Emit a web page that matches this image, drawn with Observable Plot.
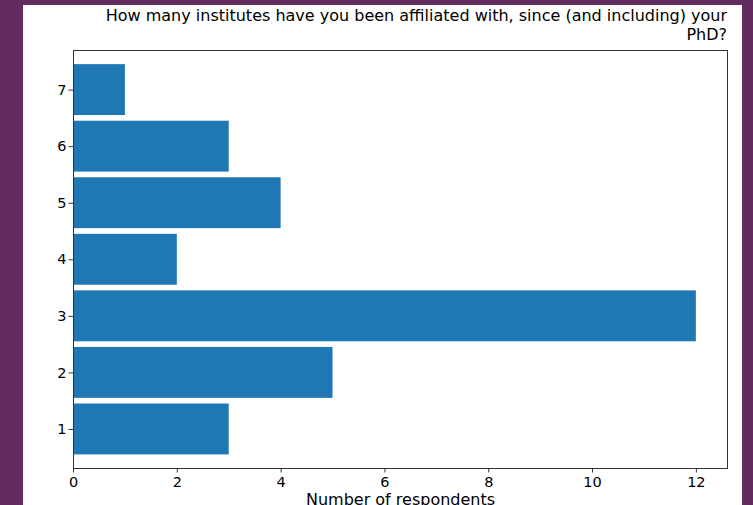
<!DOCTYPE html>
<html>
<head>
<meta charset="utf-8">
<script src="https://cdn.jsdelivr.net/npm/d3@7"></script>
<script src="https://cdn.jsdelivr.net/npm/@observablehq/plot@0.6"></script>
<style>
  html, body { margin: 0; padding: 0; background: #632c61; width: 753px; height: 505px; overflow: hidden; font-family: "DejaVu Sans", sans-serif; }
  #panel { position: absolute; left: 23px; top: 5px; width: 719px; height: 500px; background: #ffffff; }
  #title { position: absolute; right: 26px; top: 7px; width: 660px; text-align: right; font-size: 16px; line-height: 18.5px; color: #000; }
  #chart { position: absolute; left: 0; top: 0; }
</style>
</head>
<body>
<div id="panel"></div>
<div id="chart"></div>
<div id="title">How many institutes have you been affiliated with, since (and including) your<br>PhD?</div>
<script>
const categories = [1, 2, 3, 4, 5, 6, 7];
const counts = [3, 5, 12, 2, 4, 3, 1];
const xTicks = [0, 2, 4, 6, 8, 10, 12];
const xLabel = "Number of respondents";

const data = categories.map((c, i) => ({k: c, n: counts[i]}));

const chart = Plot.plot({
  width: 753,
  height: 505,
  marginTop: 50,
  marginBottom: 37,
  marginLeft: 73,
  marginRight: 26,
  style: {background: "transparent", fontFamily: "DejaVu Sans, sans-serif", color: "#000"},
  x: {domain: [0, 12.6]},
  y: {domain: [0.31, 7.7]},
  marks: [
    Plot.rectX(data, {x1: 0, x2: "n", y1: d => d.k - 0.45, y2: d => d.k + 0.45, fill: "#1f77b4"}),
    Plot.frame({stroke: "#333", strokeWidth: 1}),
    Plot.axisX({ticks: xTicks, tickSize: 4.5, tickFormat: () => "", label: null, stroke: "#333"}),
    Plot.axisY({ticks: categories, tickSize: 4.5, tickFormat: () => "", label: null, stroke: "#333"}),
    Plot.text(xTicks, {x: d => d, text: d => String(d), frameAnchor: "bottom", lineAnchor: "middle", dy: 13.5, fontSize: 14.5, fill: "#000", fontFamily: "DejaVu Sans"}),
    Plot.text(categories, {y: d => d, text: d => String(d), frameAnchor: "left", lineAnchor: "middle", dx: -7, textAnchor: "end", fontSize: 14.5, fill: "#000", fontFamily: "DejaVu Sans"}),
    Plot.text([xLabel], {text: d => d, frameAnchor: "bottom", lineAnchor: "middle", dy: 31, fontSize: 16, fill: "#000", fontFamily: "DejaVu Sans"})
  ]
});
document.getElementById("chart").appendChild(chart);
</script>
</body>
</html>
